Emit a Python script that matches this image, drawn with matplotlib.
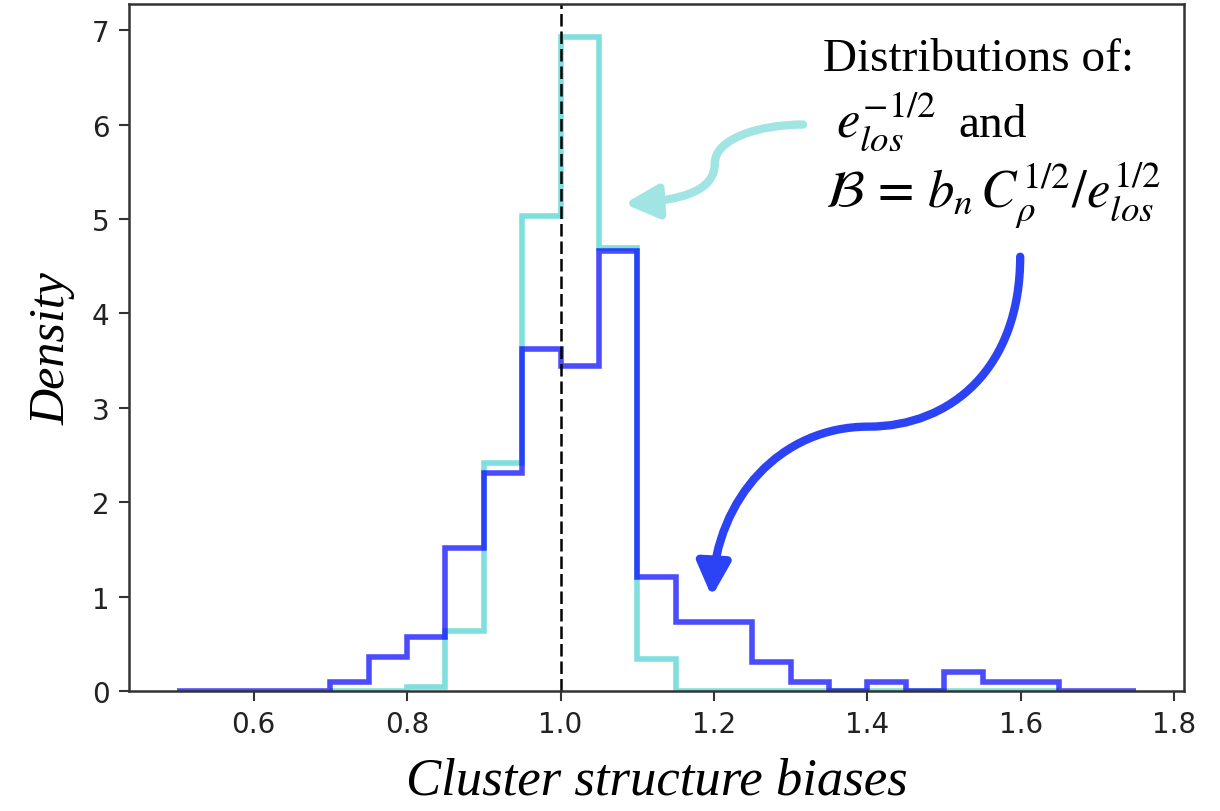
import numpy as np
import matplotlib
matplotlib.use("Agg")
from matplotlib import pyplot as plt
from matplotlib.patches import FancyArrowPatch, ArrowStyle
from matplotlib.path import Path

plt.rcParams['mathtext.fontset'] = 'stix'

# bin edges (width 0.05)
edges_b = np.linspace(0.5, 1.75, 26)
edges_e = np.linspace(0.7, 1.65, 20)

# density of B = b_n C_rho^1/2 / e_los^1/2
dens_b = [0, 0, 0, 0, 0.10, 0.36, 0.57, 1.51, 2.31, 3.62, 3.44, 4.66, 1.21,
          0.73, 0.73, 0.31, 0.10, 0, 0.10, 0, 0.20, 0.10, 0.10, 0, 0]
# density of e_los^-1/2
dens_e = [0, 0, 0.04, 0.64, 2.41, 5.03, 6.93, 4.69, 0.34,
          0, 0, 0, 0, 0, 0, 0, 0, 0, 0]

# annotation arrows (data coords): start, ctrl, ctrl, mid, ctrl, ctrl, tip
arrow_e = [(1.316, 6.00), (1.259, 6.00), (1.201, 5.85), (1.201, 5.59),
           (1.201, 5.30), (1.160, 5.20), (1.083, 5.16)]
arrow_b = [(1.599, 4.60), (1.599, 3.42), (1.509, 2.80), (1.401, 2.80),
           (1.286, 2.80), (1.204, 2.04), (1.197, 1.00)]

fig = plt.figure(figsize=(12.2, 8.12), dpi=100)
ax = fig.add_axes([0.1057, 0.1478, 0.8648, 0.846])

ax.stairs(dens_e, edges_e, color='c', alpha=0.5, lw=4)
ax.stairs(dens_b, edges_b, color='b', alpha=0.7, lw=4)
ax.axvline(1.0, color='k', lw=1.8, ls=(0, (5, 2)))

for s in ax.spines.values():
    s.set_linewidth(1.8)
    s.set_color('#333333')
ax.tick_params(labelsize=20, length=7, width=1.5, pad=7, color='#333333',
               labelcolor='#222222')

ax.set_xlabel('Cluster structure biases', family='Liberation Serif',
              style='italic', fontsize=38, labelpad=13)
ax.set_ylabel('Density', family='Liberation Serif', style='italic',
              fontsize=36, labelpad=12)

codes = [Path.MOVETO] + [Path.CURVE4] * 6
for pts, col in [(arrow_e, '#a0e4e4'), (arrow_b, '#2b42f5')]:
    arr = FancyArrowPatch(path=Path(pts, codes),
                          arrowstyle=ArrowStyle('-|>', head_length=1.0, head_width=0.5),
                          mutation_scale=20, lw=6, color=col,
                          transform=ax.transData)
    ax.add_patch(arr)

ax.text(1.342, 6.575, 'Distributions of:', family='Liberation Serif',
        fontsize=34, va='baseline', ha='left')
ax.text(1.359, 5.875, r'$e_{los}^{-1/2}$', fontsize=38, va='baseline', ha='left')
ax.text(1.518, 5.875, 'and', family='Liberation Serif',
        fontsize=34, va='baseline', ha='left')
ax.text(1.345, 5.13, r'$\mathcal{B} \,=\, b_n\, C_\rho^{1/2}/e_{los}^{1/2}$',
        fontsize=38, va='baseline', ha='left')

fig.savefig('out.png', dpi=100)
